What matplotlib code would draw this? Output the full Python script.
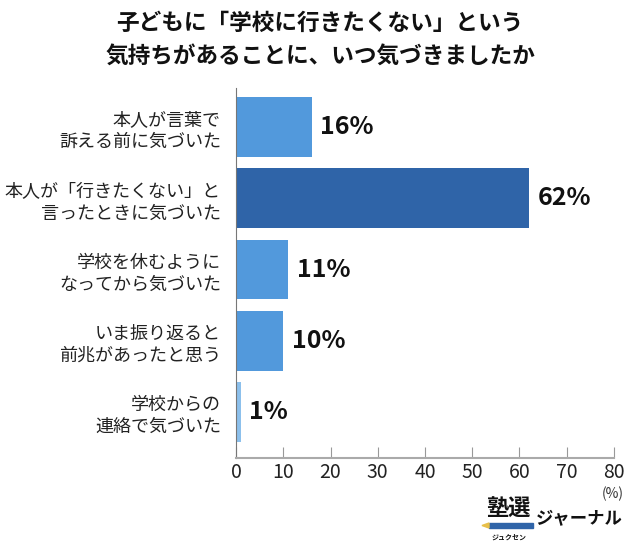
import matplotlib
matplotlib.use("Agg")
import matplotlib.pyplot as plt
from matplotlib.patches import Rectangle, Polygon

plt.rcParams['font.family'] = ['Noto Sans CJK JP', 'DejaVu Sans']

categories = ["本人が言葉で\n訴える前に気づいた",
              "本人が「行きたくない」と\n言ったときに気づいた",
              "学校を休むように\nなってから気づいた",
              "いま振り返ると\n前兆があったと思う",
              "学校からの\n連絡で気づいた"]
values = [16, 62, 11, 10, 1]
colors = ["#5299dc", "#2f64a8", "#5299dc", "#5299dc", "#8cc0ec"]
xticks = [0, 10, 20, 30, 40, 50, 60, 70, 80]

fig = plt.figure(figsize=(6.4, 5.47), dpi=100)
ax = fig.add_axes([0.369, 0.1627, 0.59, 0.6763])

pos = list(range(len(values)))
ax.barh(pos, values, height=0.84, color=colors)
for p, v in zip(pos, values):
    ax.text(v + 1.8, p, f"{v}%", va='center', ha='left',
            fontsize=18, fontweight='bold', color='#111111')

ax.set_xlim(0, 80)
ax.set_ylim(4.646, -0.547)
ax.set_yticks(pos)
ax.set_yticklabels(categories, fontsize=13, linespacing=1.3, color='#222222')
ax.tick_params(axis='y', length=0, pad=11)
ax.set_xticks(xticks)
ax.tick_params(axis='x', direction='in', length=8, color='#999999',
               labelsize=14, pad=3, labelcolor='#222222')
for s in ['top', 'right']:
    ax.spines[s].set_visible(False)
ax.spines['left'].set_color('#777777')
ax.spines['bottom'].set_color('#aaaaaa')
ax.spines['bottom'].set_linewidth(1.5)

fig.text(0.5, 1 - 23 / 547, "子どもに「学校に行きたくない」という", ha='center', va='center',
         fontsize=16.3, fontweight='bold', color='#111111')
fig.text(0.5, 1 - 56 / 547, "気持ちがあることに、いつ気づきましたか", ha='center', va='center',
         fontsize=16.3, fontweight='bold', color='#111111')

fig.text(613 / 640, 1 - 494 / 547, "(%)", ha='center', va='center',
         fontsize=10, color='#333333')

# logo
fig.text(508 / 640, 1 - 509 / 547, "塾選", ha='center', va='center',
         fontsize=16, fontweight='bold', color='#111111')
fig.patches.append(Rectangle((489 / 640, 1 - 528 / 547), 44 / 640, 5 / 547,
                             transform=fig.transFigure, color='#2f64a8'))
fig.patches.append(Polygon([(482 / 640, 1 - 525.5 / 547), (489 / 640, 1 - 523 / 547),
                            (489 / 640, 1 - 528 / 547)],
                           transform=fig.transFigure, color='#e8c04a'))
fig.text(509 / 640, 1 - 537 / 547, "ジュクセン", ha='center', va='center',
         fontsize=5, fontweight='bold', color='#111111')
fig.text(579 / 640, 1 - 518 / 547, "ジャーナル", ha='center', va='center',
         fontsize=12.5, fontweight='bold', color='#111111')

fig.savefig("out.png", dpi=100, facecolor='white')
